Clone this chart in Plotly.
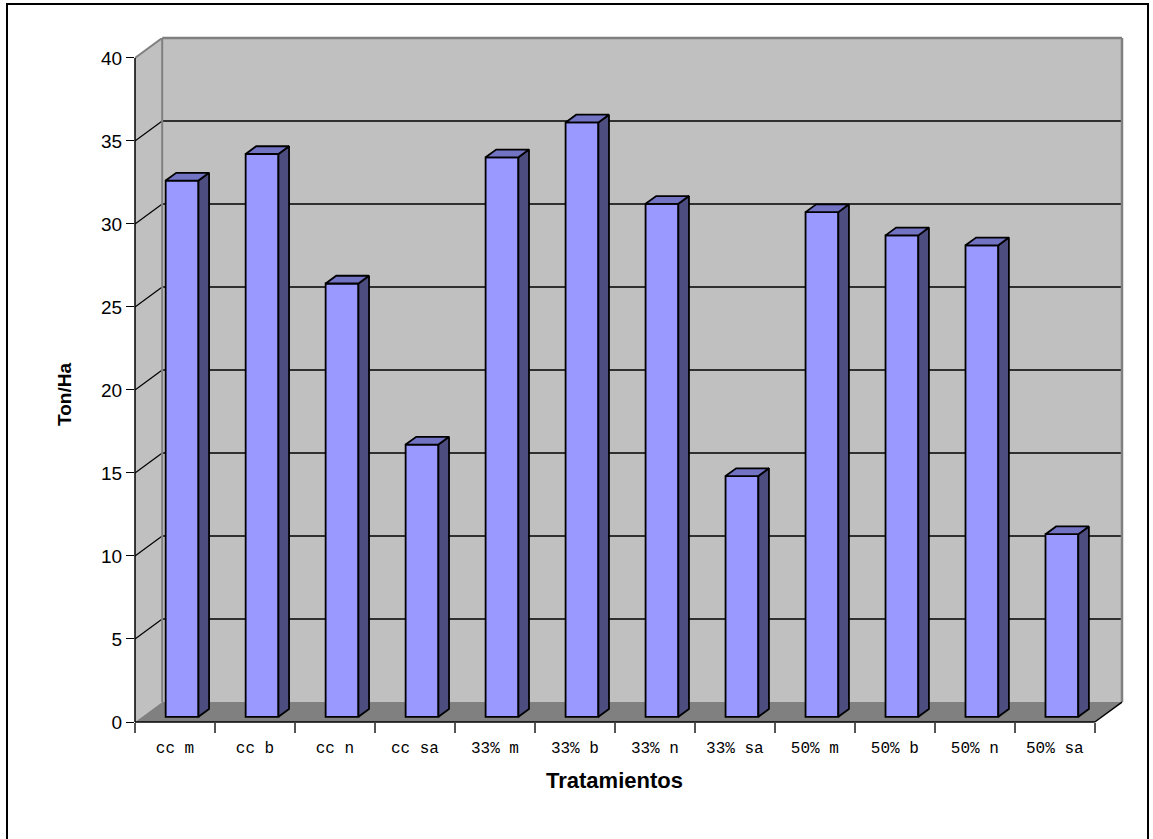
import plotly.graph_objects as go

# Yield per treatment (Ton/Ha)
categories = ["cc m", "cc b", "cc n", "cc sa",
              "33% m", "33% b", "33% n", "33% sa",
              "50% m", "50% b", "50% n", "50% sa"]
yields = [32.3, 33.9, 26.1, 16.4, 33.7, 35.8, 30.9, 14.5, 30.4, 29.0, 28.4, 11.0]
y_ticks = [0, 5, 10, 15, 20, 25, 30, 35, 40]

# Oblique "3-D" look: depth offset of the back wall, in axis units
DX, DY = 0.34, 1.2
F0, F1 = 0.26, 0.65        # depth fraction of bar front / back faces
BAR_W = 0.41
Y_MAX = 40
n = len(categories)
X0, X1 = -0.5, n - 0.5
XR = [X0, X1 + DX]
YR = [0, Y_MAX + DY]

W, H = 1153, 839
ML, MB, MR, MT = 135, 117, 31, 38
PW, PH = W - ML - MR, H - MT - MB


def px(x):
    return (x - XR[0]) / (XR[1] - XR[0])


def py(y):
    return (y - YR[0]) / (YR[1] - YR[0])


shapes = []


def poly(pts, fill):
    path = "M " + " L ".join(f"{x},{y}" for x, y in pts) + " Z"
    shapes.append(dict(type="path", path=path, xref="x", yref="y",
                       fillcolor=fill, line=dict(color="rgba(0,0,0,0)", width=0),
                       layer="below"))


def line(x0, y0, x1, y1, color, width):
    # interior line in data space, under the bars
    shapes.append(dict(type="line", xref="x", yref="y", x0=x0, y0=y0, x1=x1, y1=y1,
                       line=dict(color=color, width=width), layer="below"))


def edge(x0, y0, x1, y1, color, width):
    # border line in paper space so it is not clipped at the plot edge
    shapes.append(dict(type="line", xref="paper", yref="paper",
                       x0=px(x0), y0=py(y0), x1=px(x1), y1=py(y1),
                       line=dict(color=color, width=width), layer="above"))


# walls and floor
poly([(X0 + DX, DY), (X1 + DX, DY), (X1 + DX, Y_MAX + DY), (X0 + DX, Y_MAX + DY)], "#C0C0C0")
poly([(X0, 0), (X0 + DX, DY), (X0 + DX, Y_MAX + DY), (X0, Y_MAX)], "#C0C0C0")
poly([(X0, 0), (X1, 0), (X1 + DX, DY), (X0 + DX, DY)], "#808080")

# gridlines on back and side walls
for g in y_ticks[1:-1]:
    line(X0 + DX, g + DY, X1 + DX, g + DY, "#000000", 1.4)
    line(X0, g, X0 + DX, g + DY, "#000000", 1.2)

# wall edges
line(X0 + DX, DY, X0 + DX, Y_MAX + DY, "#808080", 2)
line(X0, Y_MAX, X0 + DX, Y_MAX + DY, "#808080", 2)
edge(X0 + DX, Y_MAX + DY, X1 + DX, Y_MAX + DY, "#808080", 2.5)
edge(X1 + DX, DY, X1 + DX, Y_MAX + DY, "#808080", 2.5)

# front axes
edge(X0, 0, X0, Y_MAX, "#000000", 1.5)
edge(X0, 0, X1, 0, "#000000", 1.5)
edge(X1, 0, X1 + DX, DY, "#000000", 1.5)

# outer chart border
shapes.append(dict(type="rect", xref="paper", yref="paper",
                   x0=(7 - ML) / PW, x1=(1148 - ML) / PW,
                   y0=(H - MB - 850) / PH, y1=(H - MB - 4) / PH,
                   line=dict(color="#000000", width=2), fillcolor="rgba(0,0,0,0)",
                   layer="above"))

base = F0 * DY
xc = [i + F0 * DX for i in range(n)]
ox, oy = (F1 - F0) * DX, (F1 - F0) * DY

side_x, side_y, top_x, top_y = [], [], [], []
for c, v in zip(xc, yields):
    xl, xr = c - BAR_W / 2, c + BAR_W / 2
    t = base + v
    side_x += [xr, xr + ox, xr + ox, xr, xr, None]
    side_y += [base, base + oy, t + oy, t, base, None]
    top_x += [xl, xr, xr + ox, xl + ox, xl, None]
    top_y += [t, t, t + oy, t + oy, t, None]

fig = go.Figure()
fig.add_trace(go.Bar(x=xc, y=yields, base=base, width=BAR_W,
                     marker=dict(color="#9999FF", line=dict(color="#000000", width=1.8)),
                     hoverinfo="skip", showlegend=False))
fig.add_trace(go.Scatter(x=side_x, y=side_y, mode="lines", fill="toself",
                         fillcolor="#4D4D80", line=dict(color="#000000", width=1.8),
                         hoverinfo="skip", showlegend=False))
fig.add_trace(go.Scatter(x=top_x, y=top_y, mode="lines", fill="toself",
                         fillcolor="#7373C4", line=dict(color="#000000", width=1.8),
                         hoverinfo="skip", showlegend=False))

fig.update_layout(
    width=W, height=H,
    margin=dict(l=ML, r=MR, t=MT, b=MB, pad=0),
    paper_bgcolor="#FFFFFF", plot_bgcolor="#FFFFFF",
    shapes=shapes,
    xaxis=dict(range=XR, showgrid=False, zeroline=False, showline=False,
               tickmode="array", tickvals=list(range(n)), ticktext=categories,
               ticks="", ticklabelstandoff=14,
               tickfont=dict(family="Liberation Mono, Courier New, monospace", size=16, color="#000000"),
               minor=dict(tickmode="array", tickvals=[X0 + k for k in range(n + 1)],
                          ticks="outside", ticklen=10, tickwidth=1.5, tickcolor="#555555",
                          showgrid=False)),
    yaxis=dict(range=YR, showgrid=False, zeroline=False, showline=False,
               tickmode="array", tickvals=y_ticks, ticks="outside", ticklen=8,
               tickwidth=1, tickcolor="#000000",
               tickfont=dict(family="Liberation Sans, Arial, sans-serif", size=19, color="#000000")),
    annotations=[
        dict(text="<b>Tratamientos</b>", xref="paper", yref="paper",
             x=px((X0 + X1) / 2), y=(H - MB - 780) / PH, xanchor="center", yanchor="middle",
             showarrow=False,
             font=dict(family="Liberation Sans, Arial, sans-serif", size=22, color="#000000")),
        dict(text="<b>Ton/Ha</b>", xref="paper", yref="paper", textangle=-90,
             x=(65 - ML) / PW, y=(H - MB - 395) / PH, xanchor="center", yanchor="middle",
             showarrow=False,
             font=dict(family="Liberation Sans, Arial, sans-serif", size=19, color="#000000")),
    ],
)

fig.write_html("out.html")
